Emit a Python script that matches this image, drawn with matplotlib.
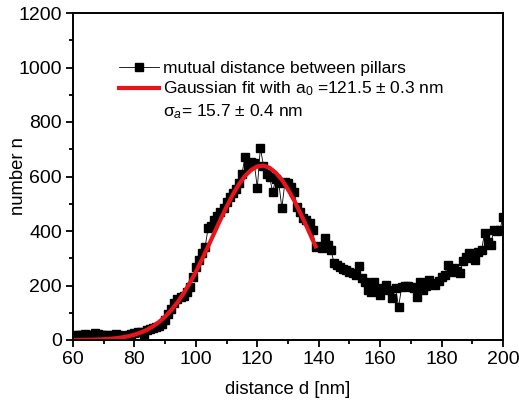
import numpy as np
import matplotlib
matplotlib.use("Agg")
import matplotlib.pyplot as plt
from matplotlib.lines import Line2D

plt.rcParams['font.family'] = ['Liberation Sans', 'DejaVu Sans']
plt.rcParams['mathtext.fontset'] = 'custom'
plt.rcParams['mathtext.rm'] = 'Liberation Sans'
plt.rcParams['mathtext.it'] = 'Liberation Sans:italic'

# измеренные расстояния (шаг 1 нм)
distance = np.arange(60, 201)
counts = [15, 18, 20, 17, 22, 20, 18, 24, 22, 19,
          17, 20, 15, 18, 21, 17, 14, 16, 20, 22,
          25, 30, 28, 22, 35, 40, 45, 48, 52, 60,
          75, 95, 115, 135, 150, 158, 160, 175, 195, 231,
          268, 294, 320, 342, 411, 420, 440, 455, 470, 484,
          505, 525, 539, 555, 576, 610, 672, 640, 653, 650,
          558, 705, 640, 610, 598, 543, 590, 576, 484, 580,
          575, 560, 543, 488, 470, 448, 440, 429, 404, 341,
          345, 338, 374, 350, 330, 282, 275, 268, 262, 257,
          250, 246, 239, 271, 227, 213, 183, 176, 213, 180,
          165, 190, 202, 185, 154, 191, 121, 195, 198, 200,
          195, 190, 158, 213, 183, 200, 220, 210, 202, 215,
          231, 240, 275, 250, 264, 255, 246, 290, 305, 319,
          300, 294, 323, 330, 393, 360, 349, 404, 400, 404,
          451]

# аппроксимация Гаусса
fit_x = [60, 62, 64, 66, 68, 70, 72, 74, 76, 78, 80, 82, 84, 86, 88,
         90, 92, 94, 96, 98, 100, 102, 104, 106, 108, 110, 112, 114,
         116, 118, 120, 122, 124, 126, 128, 130, 132, 134, 136, 138, 139]
fit_y = [0.3, 0.5, 0.8, 1.2, 1.9, 2.9, 4.4, 6.6, 9.6, 13.8, 19.5, 27, 37, 50, 66,
         86, 110, 138, 171, 209, 250, 296, 344, 393, 442, 489, 533, 571,
         602, 624, 637, 640, 632, 614, 588, 553, 512, 466, 418, 368, 344]

fig = plt.figure(figsize=(5.19, 4.0), dpi=100)
ax = fig.add_axes([0.1407, 0.15, 0.8285, 0.8175])

ax.plot(distance, counts, color='black', linewidth=0.6, marker='s',
        markersize=5.5, markerfacecolor='black', markeredgecolor='black',
        label='mutual distance between pillars')
ax.plot(fit_x, fit_y, color='#e8141b', linewidth=3,
        label='Gaussian fit with a$_0$ =121.5 ± 0.3 nm')

handles, labels = ax.get_legend_handles_labels()
handles.append(Line2D([], [], color='none'))
labels.append('σ$_a$= 15.7 ± 0.4 nm')
ax.legend(handles, labels, loc='upper left', bbox_to_anchor=(0.09, 0.875),
          frameon=False, fontsize=12.5, handlelength=2.3, handletextpad=0.25,
          labelspacing=0.22, borderaxespad=0)

ax.set_xlim(60, 200)
ax.set_ylim(0, 1200)
ax.set_xticks(np.arange(60, 201, 20))
ax.set_xticks(np.arange(70, 200, 20), minor=True)
ax.set_yticks(np.arange(0, 1201, 200))
ax.set_yticks(np.arange(100, 1200, 200), minor=True)
ax.tick_params(which='both', direction='out', top=False, right=False,
               width=1.3, labelsize=14)
ax.tick_params(which='major', length=5, pad=3)
ax.tick_params(which='minor', length=3)
for s in ax.spines.values():
    s.set_linewidth(1.4)

ax.set_xlabel('distance d [nm]', fontsize=13.3, labelpad=9)
ax.set_ylabel('number n', fontsize=13.3, labelpad=-6)

fig.savefig('out.png', dpi=100)
